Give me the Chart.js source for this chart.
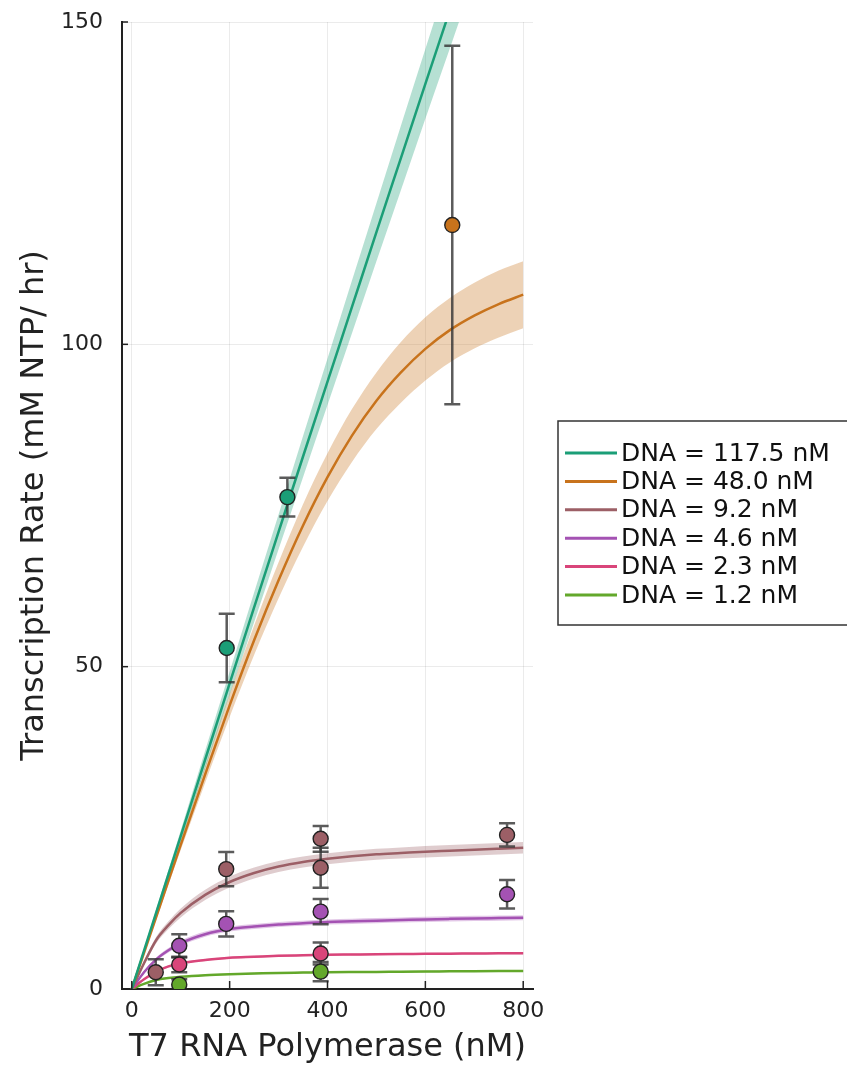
<!DOCTYPE html>
<html>
<head>
<meta charset="utf-8">
<script src="https://cdn.jsdelivr.net/npm/chart.js@4"></script>
<style>
  html, body { margin: 0; padding: 0; background: #fff; }
  #wrap { width: 847px; height: 1066px; }
</style>
</head>
<body>
<div id="wrap"><canvas id="rateChart"></canvas></div>
<script>
// series labels and colours
const seriesLabels = ['DNA = 117.5 nM', 'DNA = 48.0 nM', 'DNA = 9.2 nM', 'DNA = 4.6 nM', 'DNA = 2.3 nM', 'DNA = 1.2 nM'];
const seriesColors = ['#1b9e77', '#c8731c', '#9c5f66', '#a452b3', '#d9457a', '#63a82b'];

// fitted curves
const fitX = [0, 25, 50, 75, 100, 150, 200, 250, 300, 350, 400, 450, 500, 550, 600, 650, 700, 750, 800];
const fitTeal   = [0, 5.95, 11.9, 17.8, 23.7, 35.6, 47.4, 59.2, 70.9, 82.6, 94.2, 105.8, 117.4, 128.9, 140.4, 151.8, 163.2, 174.6, 186];
const fitOrange = [0, 5.6, 11.2, 16.8, 22.35, 33.3, 44.0, 54.1, 63.4, 71.9, 79.4, 85.85, 91.25, 95.65, 99.3, 102.2, 104.45, 106.25, 107.7];
const fitBrown  = [0, 4.0, 7.6, 9.9, 11.8, 14.6, 16.6, 18.0, 19.0, 19.7, 20.2, 20.6, 20.9, 21.1, 21.3, 21.45, 21.6, 21.75, 21.9];
const fitPurple = [0, 2.6, 4.6, 6.0, 7.1, 8.5, 9.3, 9.7, 10.0, 10.2, 10.4, 10.5, 10.6, 10.7, 10.8, 10.88, 10.95, 11.0, 11.05];
const fitPink   = [0, 1.5, 2.7, 3.5, 4.0, 4.5, 4.85, 5.0, 5.15, 5.23, 5.3, 5.35, 5.4, 5.43, 5.45, 5.48, 5.5, 5.53, 5.55];
const fitGreen  = [0, 0.8, 1.4, 1.7, 1.9, 2.15, 2.3, 2.4, 2.5, 2.55, 2.6, 2.63, 2.65, 2.69, 2.72, 2.74, 2.76, 2.78, 2.8];

// half width of the shaded band round each curve
const bandTeal   = [0, 0.3, 0.5, 0.7, 0.9, 1.4, 1.8, 2.3, 2.7, 3.2, 3.6, 4.1, 4.5, 5.0, 5.4, 5.9, 6.3, 6.7, 7.2];
const bandOrange = [0, 0.2, 0.4, 0.6, 0.8, 1.3, 1.8, 2.3, 2.8, 3.3, 3.7, 4.1, 4.4, 4.7, 4.9, 5.0, 5.1, 5.2, 5.2];
const bandBrown  = [0, 0.3, 0.5, 0.6, 0.7, 0.8, 0.85, 0.85, 0.85, 0.85, 0.85, 0.85, 0.85, 0.85, 0.9, 0.9, 0.9, 0.9, 0.9];
const bandPurple = [0, 0.2, 0.3, 0.35, 0.4, 0.4, 0.4, 0.4, 0.4, 0.4, 0.4, 0.4, 0.4, 0.4, 0.4, 0.4, 0.4, 0.4, 0.4];
const bandPink   = [0, 0.1, 0.15, 0.15, 0.15, 0.15, 0.15, 0.15, 0.15, 0.15, 0.15, 0.15, 0.15, 0.15, 0.15, 0.15, 0.15, 0.15, 0.15];
const bandGreen  = [0, 0.1, 0.12, 0.12, 0.12, 0.12, 0.12, 0.12, 0.12, 0.12, 0.12, 0.12, 0.12, 0.12, 0.12, 0.12, 0.12, 0.12, 0.12];

// measured points with error bars
const ptsTealX = [194, 318],   ptsTealY = [52.9, 76.3],  ptsTealErr = [5.3, 3.0];
const ptsOrangeX = [655],      ptsOrangeY = [118.5],     ptsOrangeErr = [27.8];
const ptsBrownX = [49, 193, 386, 386, 767], ptsBrownY = [2.6, 18.6, 23.3, 18.8, 23.9], ptsBrownErr = [2.0, 2.65, 2.0, 3.1, 1.8];
const ptsPurpleX = [97, 193, 386, 767], ptsPurpleY = [6.7, 10.1, 12.0, 14.7], ptsPurpleErr = [1.8, 1.95, 1.95, 2.2];
const ptsPinkX = [97, 386],    ptsPinkY = [3.8, 5.5],    ptsPinkErr = [1.2, 1.7];
const ptsGreenX = [97, 386],   ptsGreenY = [0.7, 2.7],   ptsGreenErr = [0.8, 1.5];

const xTicks = [0, 200, 400, 600, 800];
const yTicks = [0, 50, 100, 150];

const fits  = [fitTeal, fitOrange, fitBrown, fitPurple, fitPink, fitGreen];
const bands = [bandTeal, bandOrange, bandBrown, bandPurple, bandPink, bandGreen];
const pts = [
  [ptsTealX, ptsTealY, ptsTealErr],
  [ptsOrangeX, ptsOrangeY, ptsOrangeErr],
  [ptsBrownX, ptsBrownY, ptsBrownErr],
  [ptsPurpleX, ptsPurpleY, ptsPurpleErr],
  [ptsPinkX, ptsPinkY, ptsPinkErr],
  [ptsGreenX, ptsGreenY, ptsGreenErr]
];

function hexA(hex, a) {
  const n = parseInt(hex.slice(1), 16);
  return `rgba(${(n >> 16) & 255}, ${(n >> 8) & 255}, ${n & 255}, ${a})`;
}

const FONT = "'DejaVu Sans', sans-serif";
const datasets = [];

// bands first (drawn at the bottom)
fits.forEach((f, i) => {
  datasets.push({
    data: fitX.map((x, k) => ({ x, y: f[k] - bands[i][k] })),
    showLine: true, borderWidth: 0, pointRadius: 0, borderColor: 'transparent',
    cubicInterpolationMode: 'monotone', order: 30, fill: false
  });
  datasets.push({
    data: fitX.map((x, k) => ({ x, y: f[k] + bands[i][k] })),
    showLine: true, borderWidth: 0, pointRadius: 0, borderColor: 'transparent',
    backgroundColor: hexA(seriesColors[i], 0.32),
    cubicInterpolationMode: 'monotone', order: 30, fill: '-1'
  });
});
// fitted lines
fits.forEach((f, i) => {
  datasets.push({
    data: fitX.map((x, k) => ({ x, y: f[k] })),
    showLine: true, borderWidth: 2.5, pointRadius: 0,
    borderColor: seriesColors[i], cubicInterpolationMode: 'monotone', order: 20
  });
});
// markers (error bars drawn just before each of these)
pts.forEach((p, i) => {
  datasets.push({
    data: p[0].map((x, k) => ({ x, y: p[1][k] })),
    errs: p[2],
    showLine: false, pointRadius: 7.5, pointHoverRadius: 7.5,
    pointBackgroundColor: seriesColors[i], pointBorderColor: '#222', pointBorderWidth: 1.4,
    order: 10 - i
  });
});

const errorBars = {
  id: 'errorBars',
  beforeDatasetDraw(chart, args) {
    const ds = chart.data.datasets[args.index];
    if (!ds.errs) return;
    const { ctx, scales: { x, y }, chartArea } = chart;
    ctx.save();
    ctx.beginPath();
    ctx.rect(chartArea.left, chartArea.top - 2, chartArea.width, chartArea.height + 2);
    ctx.clip();
    ctx.strokeStyle = 'rgba(50,50,50,0.8)';
    ctx.lineWidth = 2.5;
    ds.data.forEach((pt, k) => {
      const px = x.getPixelForValue(pt.x);
      const y1 = y.getPixelForValue(pt.y + ds.errs[k]);
      const y2 = y.getPixelForValue(pt.y - ds.errs[k]);
      ctx.beginPath();
      ctx.moveTo(px, y1); ctx.lineTo(px, y2);
      ctx.moveTo(px - 8, y1); ctx.lineTo(px + 8, y1);
      ctx.moveTo(px - 8, y2); ctx.lineTo(px + 8, y2);
      ctx.stroke();
    });
    ctx.restore();
  }
};

// inward ticks and the boxed legend on the right
const frame = {
  id: 'frame',
  afterDraw(chart) {
    const { ctx, scales: { x, y }, chartArea } = chart;
    ctx.save();
    ctx.strokeStyle = '#222';
    ctx.lineWidth = 1.5;
    xTicks.forEach(v => {
      const px = x.getPixelForValue(v);
      ctx.beginPath(); ctx.moveTo(px, chartArea.bottom); ctx.lineTo(px, chartArea.bottom - 8); ctx.stroke();
    });
    yTicks.forEach(v => {
      const py = y.getPixelForValue(v);
      ctx.beginPath(); ctx.moveTo(chartArea.left, py); ctx.lineTo(chartArea.left + 6, py); ctx.stroke();
    });

    const bx = 558, by = 421, bw = 300, bh = 204;
    ctx.fillStyle = '#fff';
    ctx.fillRect(bx, by, bw, bh);
    ctx.strokeStyle = '#333';
    ctx.lineWidth = 1.5;
    ctx.strokeRect(bx, by, bw, bh);
    ctx.font = `25px ${FONT}`;
    ctx.textBaseline = 'middle';
    ctx.textAlign = 'left';
    seriesLabels.forEach((lab, i) => {
      const ly = 453 + i * 28.4;
      ctx.strokeStyle = seriesColors[i];
      ctx.lineWidth = 3;
      ctx.beginPath(); ctx.moveTo(565, ly); ctx.lineTo(617, ly); ctx.stroke();
      ctx.fillStyle = '#111';
      ctx.fillText(lab, 621, ly + 1);
    });
    ctx.restore();
  }
};

new Chart(document.getElementById('rateChart'), {
  type: 'scatter',
  data: { datasets },
  options: {
    responsive: true, maintainAspectRatio: false, animation: false,
    layout: { padding: { top: 22, right: 314, left: 0, bottom: 0 } },
    plugins: { legend: { display: false }, tooltip: { enabled: false } },
    scales: {
      x: {
        type: 'linear', min: -20, max: 820,
        afterBuildTicks: s => { s.ticks = xTicks.map(v => ({ value: v })); },
        afterFit: s => { s.height = 77; s.paddingLeft = 0; s.paddingRight = 0; },
        grid: { color: 'rgba(0,0,0,0.08)', lineWidth: 1, drawTicks: false },
        border: { display: true, color: '#222', width: 2 },
        ticks: { color: '#222', font: { family: FONT, size: 22 }, padding: 9, maxRotation: 0 },
        title: { display: true, text: 'T7 RNA Polymerase (nM)', color: '#222',
                 font: { family: FONT, size: 32, lineHeight: 1 }, padding: { top: 0, bottom: 2 } }
      },
      y: {
        type: 'linear', min: 0, max: 150,
        afterBuildTicks: s => { s.ticks = yTicks.map(v => ({ value: v })); },
        afterFit: s => { s.width = 122; s.paddingTop = 0; s.paddingBottom = 0; },
        grid: { color: 'rgba(0,0,0,0.08)', lineWidth: 1, drawTicks: false },
        border: { display: true, color: '#222', width: 2 },
        ticks: { color: '#222', font: { family: FONT, size: 22 }, padding: 19 },
        title: { display: true, text: 'Transcription Rate (mM NTP/ hr)', color: '#222',
                 font: { family: FONT, size: 32, lineHeight: 1 }, padding: { top: 19, bottom: 0 } }
      }
    }
  },
  plugins: [errorBars, frame]
});
</script>
</body>
</html>
